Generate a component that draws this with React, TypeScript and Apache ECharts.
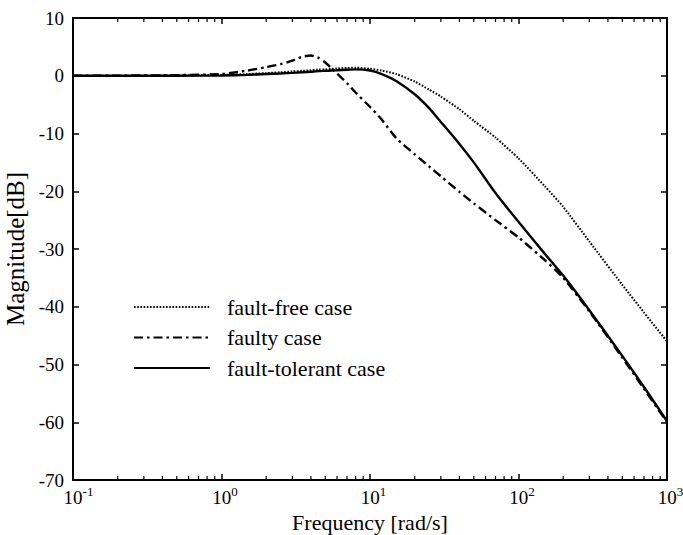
import React, { useEffect, useRef } from 'react';
import * as echarts from 'echarts';

// Frequency samples [rad/s]
const freq = [0.1, 0.2, 0.5, 1, 1.5, 2, 2.5, 3, 3.5, 4, 4.5, 5, 5.5, 6, 7, 8, 10, 12, 15, 20, 25, 30, 40, 50, 70, 100, 150, 200, 300, 500, 700, 1000];

// Magnitude [dB]
const faultFree = [0, 0, 0.05, 0.15, 0.3, 0.45, 0.6, 0.75, 0.85, 0.95, 1.05, 1.1, 1.2, 1.25, 1.35, 1.4, 1.2, 0.9, 0.3, -1.0, -2.4, -3.6, -5.8, -7.8, -10.7, -14.3, -19.1, -22.7, -28.7, -36.2, -41.0, -46.0];
const faulty = [0, 0.02, 0.1, 0.3, 0.9, 1.5, 2.0, 2.6, 3.3, 3.5, 3.1, 2.3, 1.3, 0.4, -1.3, -2.9, -5.4, -7.6, -10.8, -13.6, -15.7, -17.4, -20.1, -22.1, -25.0, -28.0, -31.9, -35.0, -40.8, -48.8, -54.2, -60.0];
const faultTolerant = [0, 0, 0, 0.05, 0.15, 0.3, 0.4, 0.5, 0.6, 0.7, 0.8, 0.85, 0.9, 0.95, 1.05, 1.1, 0.9, 0.3, -0.9, -3.2, -5.6, -8.0, -11.8, -15.0, -20.3, -25.3, -30.8, -34.6, -40.6, -48.5, -53.9, -59.8];

const seriesNames = ['fault-free case', 'faulty case', 'fault-tolerant case'];

// Axis ranges
const xMin = 0.1;
const xMax = 1000;
const yMin = -70;
const yMax = 10;
const yInterval = 10;
const decades = [0.1, 1, 10, 100];
const minorMultipliers = [2, 3, 4, 5, 6, 7, 8, 9];

const SERIF = "'Liberation Serif', 'Times New Roman', serif";

export default function App() {
  const ref = useRef<HTMLDivElement>(null);

  useEffect(() => {
    const chart = echarts.init(ref.current!, null, { renderer: 'svg' });

    const zip = (ys: number[]) => freq.map((f, i) => [f, ys[i]]);
    const minorTicks: number[][] = [];
    decades.forEach((d) => minorMultipliers.forEach((m) => minorTicks.push([d * m, 0])));

    const axisLine = { show: true, onZero: false, lineStyle: { color: '#000', width: 2 } };
    const tick = { show: true, inside: true, length: 6, lineStyle: { color: '#000', width: 1.5 } };

    const option: any = {
      animation: false,
      backgroundColor: '#fff',
      grid: { left: 73, right: 16, top: 18, bottom: 55, containLabel: false, outerBoundsMode: 'none' },
      legend: {
        show: true,
        data: seriesNames,
        orient: 'vertical',
        left: 133,
        top: 296,
        padding: 0,
        itemWidth: 76,
        itemHeight: 14,
        itemGap: 8.5,
        itemStyle: { opacity: 0, color: 'rgba(0,0,0,0)', borderWidth: 0 },
        textStyle: { fontFamily: SERIF, fontSize: 22, color: '#000', padding: [0, 0, 0, 12] },
      },
      xAxis: [
        {
          type: 'log',
          logBase: 10,
          min: xMin,
          max: xMax,
          position: 'bottom',
          name: 'Frequency [rad/s]',
          nameLocation: 'middle',
          nameGap: 27,
          nameTextStyle: { fontFamily: SERIF, fontSize: 22, lineHeight: 22, color: '#000' },
          axisLine,
          axisTick: tick,
          splitLine: { show: false },
          minorTick: { show: false },
          axisLabel: {
            margin: 5,
            color: '#000',
            formatter: (v: number) => {
              const e = Math.round(Math.log10(v));
              const pad = e < 0 ? 'pn' : 'pp';
              return `{${pad}|}{b|10}{s|${e}}`;
            },
            rich: {
              b: { fontFamily: SERIF, fontSize: 19, color: '#000' },
              s: { fontFamily: SERIF, fontSize: 13, color: '#000', padding: [0, 0, 12, 0] },
              pn: { width: 11 },
              pp: { width: 7 },
            },
          },
        },
        {
          type: 'log',
          logBase: 10,
          min: xMin,
          max: xMax,
          position: 'top',
          axisLine,
          axisTick: tick,
          axisLabel: { show: false },
          splitLine: { show: false },
        },
      ],
      yAxis: [
        {
          type: 'value',
          min: yMin,
          max: yMax,
          interval: yInterval,
          position: 'left',
          name: 'Magnitude[dB]',
          nameLocation: 'middle',
          nameGap: 36,
          nameTextStyle: { fontFamily: SERIF, fontSize: 25, color: '#000' },
          axisLine,
          axisTick: tick,
          splitLine: { show: false },
          axisLabel: { margin: 9, color: '#000', fontFamily: SERIF, fontSize: 19, formatter: (v: number) => String(v) },
        },
        {
          type: 'value',
          min: yMin,
          max: yMax,
          interval: yInterval,
          position: 'right',
          axisLine,
          axisTick: tick,
          axisLabel: { show: false },
          splitLine: { show: false },
        },
      ],
      series: [
        {
          name: seriesNames[0],
          type: 'line',
          data: zip(faultFree),
          symbol: 'none',
          showSymbol: false,
          smooth: 0.2,
          lineStyle: { color: '#000', width: 2, type: [1.6, 1.6] },
          itemStyle: { color: '#000' },
          z: 3,
        },
        {
          name: seriesNames[1],
          type: 'line',
          data: zip(faulty),
          symbol: 'none',
          showSymbol: false,
          smooth: 0.2,
          lineStyle: { color: '#000', width: 2.4, type: [9, 4, 2.5, 4] },
          itemStyle: { color: '#000' },
          z: 3,
        },
        {
          name: seriesNames[2],
          type: 'line',
          data: zip(faultTolerant),
          symbol: 'none',
          showSymbol: false,
          smooth: 0.2,
          lineStyle: { color: '#000', width: 2.4, type: 'solid' },
          itemStyle: { color: '#000' },
          z: 3,
        },
        {
          type: 'custom',
          xAxisIndex: 0,
          yAxisIndex: 0,
          silent: true,
          clip: false,
          data: minorTicks,
          renderItem: (params: any, api: any) => {
            const x = api.value(0);
            const b = api.coord([x, yMin]);
            const t = api.coord([x, yMax]);
            const style = { stroke: '#000', lineWidth: 1.2 };
            return {
              type: 'group',
              children: [
                { type: 'line', shape: { x1: b[0], y1: b[1], x2: b[0], y2: b[1] - 4 }, style },
                { type: 'line', shape: { x1: t[0], y1: t[1], x2: t[0], y2: t[1] + 4 }, style },
              ],
            };
          },
        },
      ],
    };

    chart.setOption(option);
    return () => chart.dispose();
  }, []);

  return (
    <div
      ref={ref}
      style={{ position: 'fixed', left: 0, top: 0, width: 683, height: 535, background: '#fff' }}
    />
  );
}
